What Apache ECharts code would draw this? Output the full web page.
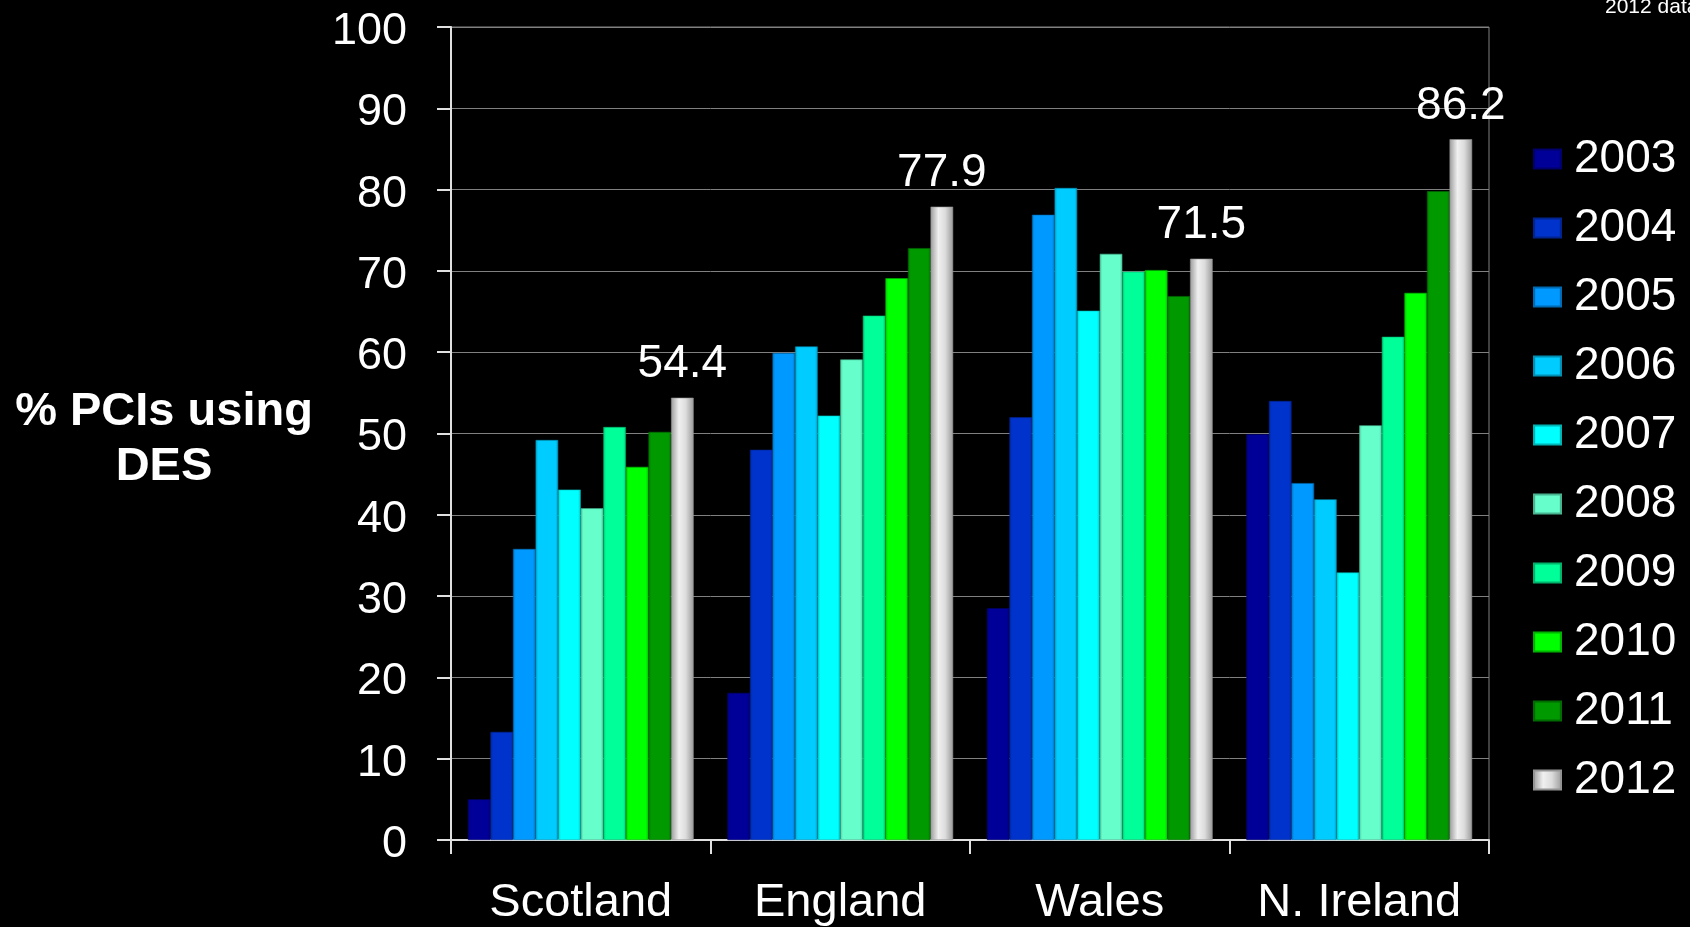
<!DOCTYPE html>
<html>
<head>
<meta charset="utf-8">
<style>
  html, body { margin: 0; padding: 0; background: #000; }
  #chart { width: 1690px; height: 927px; }
</style>
<script src="https://cdn.jsdelivr.net/npm/echarts@6/dist/echarts.min.js"></script>
</head>
<body>
<div id="chart"></div>
<script>
const categories = ['Scotland', 'England', 'Wales', 'N. Ireland'];
const years = ['2003', '2004', '2005', '2006', '2007', '2008', '2009', '2010', '2011', '2012'];
const v2003 = [5.0, 18.1, 28.5, 49.9];
const v2004 = [13.3, 48.0, 52.0, 54.0];
const v2005 = [35.8, 59.9, 76.9, 43.9];
const v2006 = [49.2, 60.7, 80.2, 41.9];
const v2007 = [43.1, 52.2, 65.1, 32.9];
const v2008 = [40.8, 59.1, 72.1, 51.0];
const v2009 = [50.8, 64.5, 69.9, 61.9];
const v2010 = [45.9, 69.1, 70.1, 67.3];
const v2011 = [50.2, 72.8, 66.9, 79.8];
const v2012 = [54.4, 77.9, 71.5, 86.2];
const yTicks = [0, 10, 20, 30, 40, 50, 60, 70, 80, 90, 100];
const yAxisTitle = '% PCIs using\nDES';

const seriesValues = [v2003, v2004, v2005, v2006, v2007, v2008, v2009, v2010, v2011, v2012];
const baseColors = ['#000099', '#0033CC', '#0099FF', '#00CCFF', '#00FFFF', '#66FFCC', '#00FF99', '#00FF00', '#009900', '#D4D4D4'];

function shade(hex, f) {
  const n = parseInt(hex.slice(1), 16);
  const r = Math.round(((n >> 16) & 255) * f), g = Math.round(((n >> 8) & 255) * f), b = Math.round((n & 255) * f);
  return 'rgb(' + r + ',' + g + ',' + b + ')';
}
function barFill(i) {
  if (i === 9) {
    return new echarts.graphic.LinearGradient(0, 0, 1, 0, [
      { offset: 0, color: '#9c9c9c' },
      { offset: 0.35, color: '#f0f0f0' },
      { offset: 0.65, color: '#dcdcdc' },
      { offset: 1, color: '#9a9a9a' }
    ]);
  }
  const c = baseColors[i];
  return new echarts.graphic.LinearGradient(0, 0, 1, 0, [
    { offset: 0, color: shade(c, 0.8) },
    { offset: 0.12, color: c },
    { offset: 0.88, color: c },
    { offset: 1, color: shade(c, 0.8) }
  ]);
}

const FONT = '"Liberation Sans", Arial, sans-serif';

const series = years.map((y, i) => ({
  name: y,
  type: 'bar',
  data: seriesValues[i],
  barGap: '0%',
  barCategoryGap: '13%',
  itemStyle: { color: barFill(i), borderColor: shade(baseColors[i], 0.7), borderWidth: 0.6 },
  label: i === 9 ? {
    show: true, position: 'top', distance: 10, color: '#fff', fontSize: 46, fontFamily: FONT
  } : { show: false },
  emphasis: { disabled: true }
}));

const chart = echarts.init(document.getElementById('chart'));
chart.setOption({
  backgroundColor: '#000',
  animation: false,
  color: baseColors,
  grid: { left: 451, right: 201, top: 27, bottom: 84, show: true, borderColor: '#808080', borderWidth: 1, backgroundColor: 'transparent' },
  legend: {
    orient: 'vertical',
    left: 1528,
    top: 131,
    itemWidth: 27,
    itemHeight: 19,
    itemGap: 23,
    icon: 'rect',
    data: years,
    textStyle: { color: '#fff', fontSize: 46, fontFamily: FONT, lineHeight: 46, padding: [0, 0, 0, 8] }
  },
  graphic: [{
    type: 'text',
    left: 1605,
    top: -3,
    style: { text: '2012 data', fill: '#fff', fontSize: 21, fontFamily: FONT }
  }, {
    type: 'text',
    x: 164,
    y: 440,
    style: {
      text: yAxisTitle, fill: '#fff', fontSize: 47, fontWeight: 'bold', fontFamily: FONT,
      lineHeight: 55, align: 'center', verticalAlign: 'middle'
    }
  }],
  xAxis: {
    type: 'category',
    data: categories,
    axisLine: { lineStyle: { color: '#e0e0e0', width: 2 } },
    axisTick: { show: true, interval: 0, length: 14, lineStyle: { color: '#e0e0e0', width: 2 } },
    axisLabel: { color: '#fff', fontSize: 47, fontFamily: FONT, margin: 40, interval: 0 }
  },
  yAxis: {
    type: 'value',
    min: 0, max: 100, interval: 10,
    axisLine: { show: true, lineStyle: { color: '#e0e0e0', width: 2 } },
    axisTick: { show: true, length: 14, lineStyle: { color: '#e0e0e0', width: 2 } },
    splitLine: { show: true, lineStyle: { color: '#808080', width: 1 } },
    axisLabel: {
      color: '#fff', fontSize: 45, fontFamily: FONT, margin: 44,
      verticalAlign: 'top', lineHeight: 9,
      formatter: v => yTicks.includes(v) ? String(v) : ''
    }
  },
  series: series
});
</script>
</body>
</html>
